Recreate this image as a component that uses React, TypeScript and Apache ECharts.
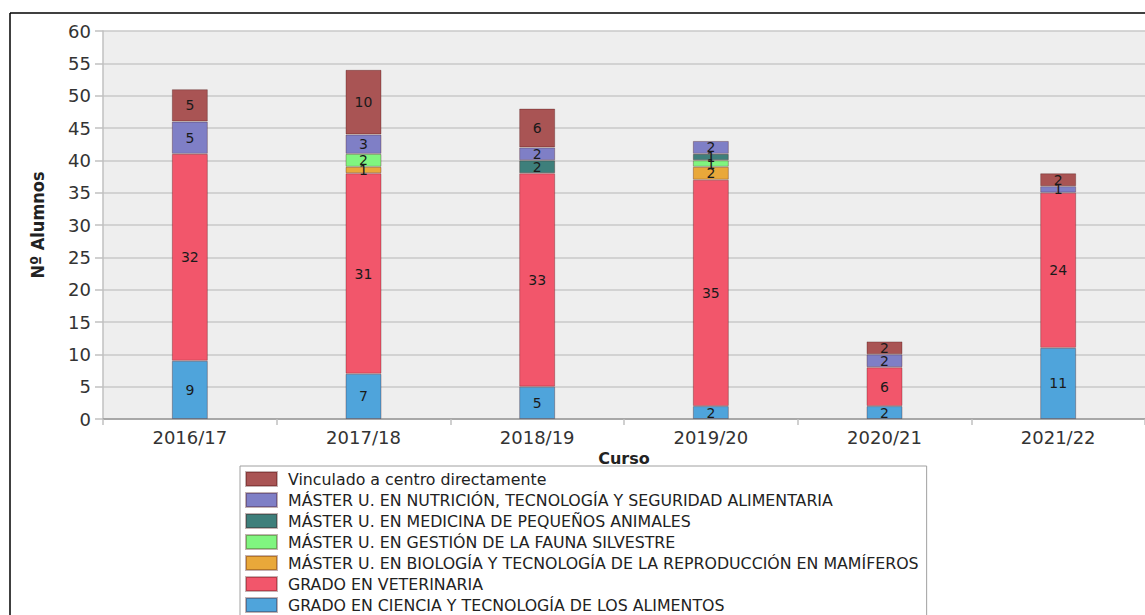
import React, { useEffect, useRef } from "react";
import * as echarts from "echarts";

const categories = ["2016/17", "2017/18", "2018/19", "2019/20", "2020/21", "2021/22"];

const cienciaAlimentos = [9, 7, 5, 2, 2, 11];
const veterinaria = [32, 31, 33, 35, 6, 24];
const biologiaReproduccion = [0, 1, 0, 2, 0, 0];
const gestionFauna = [0, 2, 0, 1, 0, 0];
const medicinaPequenos = [0, 0, 2, 1, 0, 0];
const nutricion = [5, 3, 2, 2, 2, 1];
const vinculado = [5, 10, 6, 0, 2, 2];

const seriesDefs = [
  { name: "GRADO EN CIENCIA Y TECNOLOGÍA DE LOS ALIMENTOS", data: cienciaAlimentos, color: "#4fa4db" },
  { name: "GRADO EN VETERINARIA", data: veterinaria, color: "#f2566b" },
  { name: "MÁSTER U. EN BIOLOGÍA Y TECNOLOGÍA DE LA REPRODUCCIÓN EN MAMÍFEROS", data: biologiaReproduccion, color: "#e9a83a" },
  { name: "MÁSTER U. EN GESTIÓN DE LA FAUNA SILVESTRE", data: gestionFauna, color: "#80f580" },
  { name: "MÁSTER U. EN MEDICINA DE PEQUEÑOS ANIMALES", data: medicinaPequenos, color: "#3e7f7b" },
  { name: "MÁSTER U. EN NUTRICIÓN, TECNOLOGÍA Y SEGURIDAD ALIMENTARIA", data: nutricion, color: "#7f7fc6" },
  { name: "Vinculado a centro directamente", data: vinculado, color: "#a95454" },
];

export default function App() {
  const ref = useRef<HTMLDivElement>(null);
  useEffect(() => {
    if (!ref.current) return;
    const chart = echarts.init(ref.current, null, { renderer: "svg" });
    const font = "DejaVu Sans";
    chart.setOption({
      animation: false,
      backgroundColor: "#ffffff",
      grid: {
        left: 103,
        top: 31,
        width: 1044,
        bottom: 196,
        show: true,
        backgroundColor: "#eeeeee",
        borderWidth: 0,
      },
      graphic: [
        { type: "line", shape: { x1: 10, y1: 13, x2: 1145, y2: 13 }, style: { stroke: "#000", lineWidth: 1.5 } },
        { type: "line", shape: { x1: 10, y1: 13, x2: 10, y2: 615 }, style: { stroke: "#000", lineWidth: 1.5 } },
      ],
      legend: {
        orient: "vertical",
        left: 240,
        top: 466,
        height: 200,
        data: seriesDefs.map((s) => s.name).reverse(),
        icon: "rect",
        itemWidth: 31,
        itemHeight: 14,
        itemGap: 5,
        backgroundColor: "#ffffff",
        borderColor: "#a0a0a0",
        borderWidth: 1,
        padding: [5, 8, 5, 5],
        textStyle: { fontFamily: font, fontSize: 15.8, color: "#222", lineHeight: 14, padding: [0, 0, 0, 6] },
      },
      xAxis: {
        type: "category",
        data: categories,
        name: "Curso",
        nameLocation: "middle",
        nameGap: 15,
        nameTextStyle: { fontFamily: font, fontSize: 16, fontWeight: "bold", color: "#222" },
        axisLine: { lineStyle: { color: "#999999", width: 1.5 } },
        axisTick: { show: true, length: 6, lineStyle: { color: "#c0c0c0", width: 1.5 } },
        axisLabel: { fontFamily: font, fontSize: 18, color: "#333", margin: 9 },
      },
      yAxis: {
        type: "value",
        min: 0,
        max: 60,
        interval: 5,
        name: "Nº Alumnos",
        nameLocation: "middle",
        nameGap: 57,
        nameRotate: 90,
        nameTextStyle: {
          fontFamily: "'Liberation Sans Narrow', 'DejaVu Sans Condensed', 'Liberation Sans', sans-serif",
          fontSize: 18,
          fontWeight: "bold",
          color: "#222",
        },
        axisLine: { show: true, lineStyle: { color: "#c0c0c0", width: 1.5 } },
        axisTick: { show: true, length: 8, lineStyle: { color: "#c0c0c0", width: 1.5 } },
        axisLabel: { fontFamily: font, fontSize: 18, color: "#333", margin: 12 },
        splitLine: { lineStyle: { color: "#c8c8c8", width: 1.5 } },
      },
      series: seriesDefs.map((s) => ({
        name: s.name,
        type: "bar",
        stack: "total",
        barWidth: 36,
        data: s.data.map((v) => (v === 0 ? "-" : v)),
        itemStyle: { color: s.color, borderColor: "rgba(60,0,0,0.3)", borderWidth: 1 },
        label: {
          show: true,
          position: "inside",
          fontFamily: font,
          fontSize: 14,
          color: "#1a1a1a",
          formatter: (p: any) => (p.value ? String(p.value) : ""),
        },
      })),
    });
    return () => chart.dispose();
  }, []);
  return (
    <div
      ref={ref}
      style={{ position: "fixed", left: 0, top: 0, width: 1145, height: 615 }}
    />
  );
}
